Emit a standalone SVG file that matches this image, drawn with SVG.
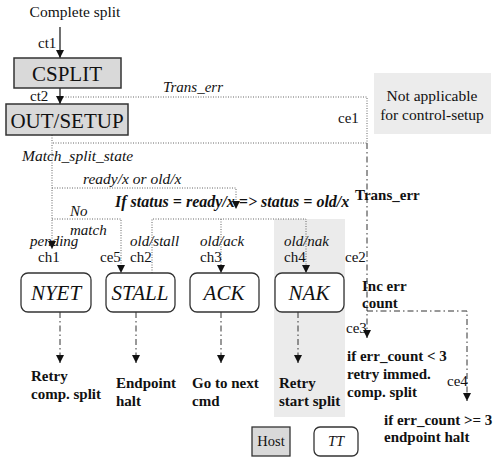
<svg xmlns="http://www.w3.org/2000/svg" width="501" height="464" viewBox="0 0 501 464">
<style>
text{font-family:"Liberation Serif","Times New Roman","DejaVu Serif",serif;fill:#111}
.it{font-style:italic}
.b{font-weight:bold}
.dot{fill:none;stroke:#666;stroke-width:1;stroke-dasharray:1,1.5}
.dd{fill:none;stroke:#333;stroke-width:1;stroke-dasharray:6,3,1.5,3}
.sol{fill:none;stroke:#111;stroke-width:1.2}
.gbox{fill:#d9d9d9;stroke:#333;stroke-width:1.5}
.rbox{fill:#fff;stroke:#333;stroke-width:1.3}
</style>
<defs>
<marker id="ah" viewBox="0 0 10 10" refX="10" refY="5" markerWidth="8" markerHeight="8" markerUnits="userSpaceOnUse" orient="auto">
<path d="M0,0 L10,5 L0,10 z" fill="#111"/>
</marker>
</defs>
<rect x="274" y="219" width="71" height="198" fill="#ebebeb"/>
<g id="not-applicable">
<rect x="374" y="73" width="117" height="61" fill="#ececec"/>
<text x="432" y="101" font-size="15.5" text-anchor="middle">Not applicable</text>
<text x="432" y="120" font-size="15.5" text-anchor="middle">for control-setup</text>
</g>
<g id="connectors">
<path class="sol" d="M60,27 V58" marker-end="url(#ah)"/>
<path class="sol" d="M60,88 V104" marker-end="url(#ah)"/>
<path class="dot" d="M63,97 H367 V143"/>
<path class="dot" d="M53,143 H367"/>
<path class="dd" d="M367,143 V338" marker-end="url(#ah)"/>
<path class="dd" d="M367,311 H467 V401" marker-end="url(#ah)"/>
<path class="dot" d="M52,135 V249" marker-end="url(#ah)"/>
<path class="dot" d="M52,188 H236 V209" marker-end="url(#ah)"/>
<path class="dot" d="M52,219 H121 V273" marker-end="url(#ah)"/>
<path class="dot" d="M152,273 V219 H306 V273" marker-end="url(#ah)"/>
<path class="dot" d="M221,219 V273" marker-end="url(#ah)"/>
<path class="dd" d="M60,312 V363" marker-end="url(#ah)"/>
<path class="dd" d="M136,312 V363" marker-end="url(#ah)"/>
<path class="dd" d="M221,312 V363" marker-end="url(#ah)"/>
<path class="dd" d="M298,312 V363" marker-end="url(#ah)"/>
</g>
<text x="75" y="17" font-size="15.5" text-anchor="middle">Complete split</text>
<text x="38" y="48" font-size="15">ct1</text>
<text x="30" y="101" font-size="15">ct2</text>
<g id="csplit">
<rect class="gbox" x="14" y="58" width="107" height="30"/>
<text x="67" y="81" font-size="21" text-anchor="middle">CSPLIT</text>
</g>
<g id="out-setup">
<rect class="gbox" x="6" y="104" width="122" height="31"/>
<text x="67" y="128" font-size="21" text-anchor="middle">OUT/SETUP</text>
</g>
<text class="it" x="163" y="92" font-size="15">Trans_err</text>
<text x="338" y="123" font-size="15">ce1</text>
<text class="it" x="22" y="161" font-size="15.5">Match_split_state</text>
<text class="it" x="83" y="184" font-size="15.5">ready/x or old/x</text>
<text class="it b" x="115" y="207" font-size="16">If status = ready/x =&gt; status =  old/x</text>
<text class="b" x="355" y="200" font-size="15">Trans_err</text>
<text class="it" x="70" y="216" font-size="15">No</text>
<text class="it" x="70" y="235" font-size="15">match</text>
<text class="it" x="30" y="246" font-size="15">pending</text>
<text x="38" y="262" font-size="15">ch1</text>
<text x="100" y="262" font-size="15">ce5</text>
<text class="it" x="130" y="246" font-size="15">old/stall</text>
<text x="130" y="262" font-size="15">ch2</text>
<text class="it" x="200" y="246" font-size="15">old/ack</text>
<text x="200" y="262" font-size="15">ch3</text>
<text class="it" x="284" y="246" font-size="15">old/nak</text>
<text x="284" y="262" font-size="15">ch4</text>
<text x="345" y="262" font-size="15">ce2</text>
<g id="nyet">
<rect class="rbox" x="21" y="273" width="70" height="39" rx="7"/>
<text class="it" x="56" y="300" font-size="21" text-anchor="middle">NYET</text>
</g>
<g id="stall">
<rect class="rbox" x="106" y="273" width="69" height="39" rx="7"/>
<text class="it" x="140" y="300" font-size="21" text-anchor="middle">STALL</text>
</g>
<g id="ack">
<rect class="rbox" x="190" y="273" width="69" height="39" rx="7"/>
<text class="it" x="224" y="300" font-size="21" text-anchor="middle">ACK</text>
</g>
<g id="nak">
<rect class="rbox" x="275" y="273" width="69" height="39" rx="7"/>
<text class="it" x="309" y="300" font-size="21" text-anchor="middle">NAK</text>
</g>
<text class="b" x="362" y="291" font-size="15">Inc err</text>
<text class="b" x="362" y="308" font-size="15">count</text>
<text x="346" y="333" font-size="15">ce3</text>
<text x="447" y="386" font-size="15">ce4</text>
<text class="b" x="347" y="361" font-size="15">if err_count &lt; 3</text>
<text class="b" x="347" y="379" font-size="15">retry immed.</text>
<text class="b" x="347" y="397" font-size="15">comp. split</text>
<text class="b" x="384" y="425" font-size="15">if err_count &gt;= 3</text>
<text class="b" x="384" y="442" font-size="15">endpoint halt</text>
<text class="b" x="31" y="381" font-size="15">Retry</text>
<text class="b" x="31" y="399" font-size="15">comp. split</text>
<text class="b" x="116" y="388" font-size="15">Endpoint</text>
<text class="b" x="116" y="406" font-size="15">halt</text>
<text class="b" x="192" y="388" font-size="15">Go to next</text>
<text class="b" x="192" y="406" font-size="15">cmd</text>
<text class="b" x="279" y="388" font-size="15">Retry</text>
<text class="b" x="279" y="406" font-size="15">start split</text>
<g id="host">
<rect x="252" y="427" width="38" height="29" fill="#d9d9d9" stroke="#333" stroke-width="1.3"/>
<text x="271" y="446" font-size="14.5" text-anchor="middle">Host</text>
</g>
<g id="tt">
<rect class="rbox" x="314" y="427" width="44" height="29" rx="6"/>
<text class="it" x="336" y="446" font-size="14.5" text-anchor="middle">TT</text>
</g>
</svg>
